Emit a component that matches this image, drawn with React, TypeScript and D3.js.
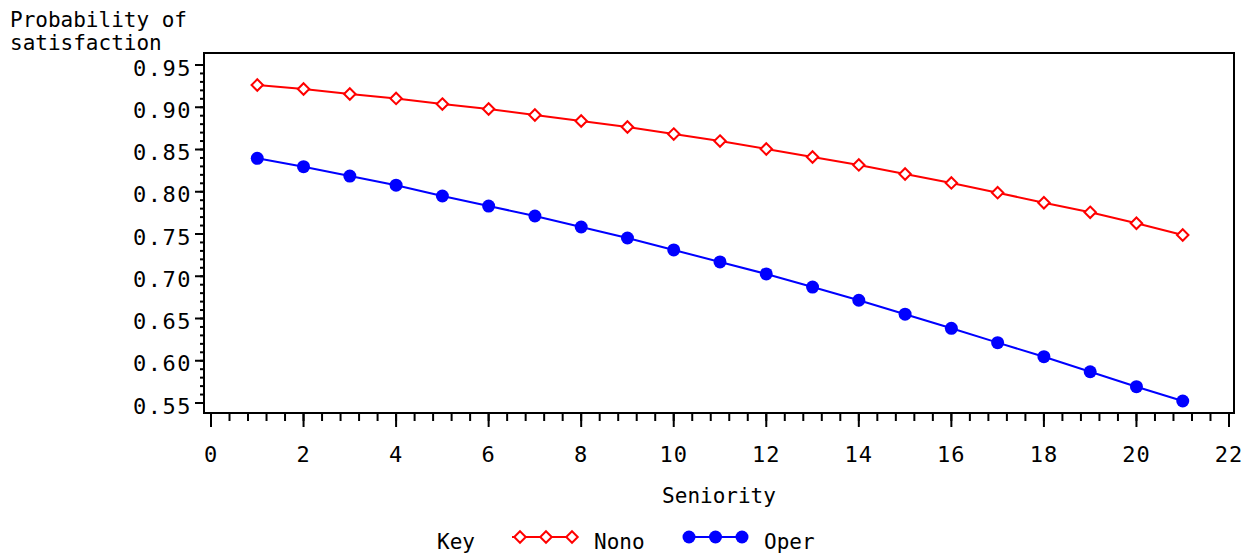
import { useEffect, useRef } from 'react';
import * as d3 from 'd3';

// Seniority (x) for both groups
const seniority = [1, 2, 3, 4, 5, 6, 7, 8, 9, 10, 11, 12, 13, 14, 15, 16, 17, 18, 19, 20, 21];

// Probability of satisfaction
const nono = [
  0.9263, 0.9216, 0.9157, 0.9104, 0.9038, 0.8979, 0.8908, 0.8837, 0.8766, 0.8683, 0.8600,
  0.8506, 0.8411, 0.8317, 0.8210, 0.8104, 0.7989, 0.7870, 0.7757, 0.7627, 0.7488,
];
const oper = [
  0.8396, 0.8297, 0.8186, 0.8078, 0.7950, 0.7831, 0.7713, 0.7583, 0.7453, 0.7311, 0.7169,
  0.7027, 0.6872, 0.6716, 0.6551, 0.6384, 0.6214, 0.6048, 0.5870, 0.5693, 0.5524,
];

const xTicks = [0, 2, 4, 6, 8, 10, 12, 14, 16, 18, 20, 22];
const yTicks = [0.55, 0.6, 0.65, 0.7, 0.75, 0.8, 0.85, 0.9, 0.95];

const FONT = "'DejaVu Sans Mono', 'Liberation Mono', monospace";

function App() {
  const svgRef = useRef<SVGSVGElement | null>(null);

  useEffect(() => {
    const svg = d3.select(svgRef.current);
    svg.selectAll('*').remove();

    // frame of the plot area
    const frame = { left: 204, right: 1234, top: 53, bottom: 413 };

    const x = d3.scaleLinear().domain([0, 22]).range([211, 1229]);
    const y = d3.scaleLinear().domain([0.55, 0.95]).range([403, 65]);

    svg.append('rect')
      .attr('x', frame.left)
      .attr('y', frame.top)
      .attr('width', frame.right - frame.left)
      .attr('height', frame.bottom - frame.top)
      .attr('fill', 'none')
      .attr('stroke', '#000')
      .attr('stroke-width', 2);

    // y axis ticks (major every 0.05, minor every 0.01)
    const yMinor = d3.range(0.55, 0.9501, 0.01);
    svg.append('g')
      .selectAll('line')
      .data(yMinor)
      .join('line')
      .attr('x1', frame.left - 4)
      .attr('x2', frame.left)
      .attr('y1', d => y(d))
      .attr('y2', d => y(d))
      .attr('stroke', '#000')
      .attr('stroke-width', 2);

    svg.append('g')
      .selectAll('line')
      .data(yTicks)
      .join('line')
      .attr('x1', frame.left - 9)
      .attr('x2', frame.left)
      .attr('y1', d => y(d))
      .attr('y2', d => y(d))
      .attr('stroke', '#000')
      .attr('stroke-width', 2);

    svg.append('g')
      .selectAll('text')
      .data(yTicks)
      .join('text')
      .attr('x', 192)
      .attr('y', d => y(d) + 10.5)
      .attr('text-anchor', 'end')
      .attr('font-family', FONT)
      .attr('font-size', 22)
      .attr('letter-spacing', 1.5)
      .text(d => d3.format('.2f')(d));

    // x axis ticks (major every 2, minor every 0.4)
    const xMinor = d3.range(0, 22.001, 0.4);
    svg.append('g')
      .selectAll('line')
      .data(xMinor)
      .join('line')
      .attr('x1', d => x(d))
      .attr('x2', d => x(d))
      .attr('y1', frame.bottom)
      .attr('y2', frame.bottom + 8)
      .attr('stroke', '#000')
      .attr('stroke-width', 2);

    svg.append('g')
      .selectAll('line')
      .data(xTicks)
      .join('line')
      .attr('x1', d => x(d))
      .attr('x2', d => x(d))
      .attr('y1', frame.bottom)
      .attr('y2', frame.bottom + 14)
      .attr('stroke', '#000')
      .attr('stroke-width', 2);

    svg.append('g')
      .selectAll('text')
      .data(xTicks)
      .join('text')
      .attr('x', d => x(d))
      .attr('y', 462)
      .attr('text-anchor', 'middle')
      .attr('font-family', FONT)
      .attr('font-size', 22)
      .attr('letter-spacing', 1)
      .text(d => String(d));

    // axis titles
    const yTitle = svg.append('text')
      .attr('font-family', FONT)
      .attr('font-size', 21)
      .attr('letter-spacing', 0);
    yTitle.append('tspan').attr('x', 10).attr('y', 27).text('Probability of');
    yTitle.append('tspan').attr('x', 10).attr('y', 50).text('satisfaction');

    svg.append('text')
      .attr('x', 719)
      .attr('y', 503)
      .attr('text-anchor', 'middle')
      .attr('font-family', FONT)
      .attr('font-size', 21)
      .text('Seniority');

    // lines
    const line = d3.line<number>()
      .x((_, i) => x(seniority[i]))
      .y(d => y(d));

    const diamond = d3.symbol().type(d3.symbolDiamond2).size(84);

    svg.append('path')
      .attr('d', line(nono))
      .attr('fill', 'none')
      .attr('stroke', '#ff0000')
      .attr('stroke-width', 2);

    svg.append('g')
      .selectAll('path')
      .data(nono)
      .join('path')
      .attr('transform', (d, i) => `translate(${x(seniority[i])},${y(d)})`)
      .attr('d', diamond)
      .attr('fill', 'white')
      .attr('stroke', '#ff0000')
      .attr('stroke-width', 2);

    svg.append('path')
      .attr('d', line(oper))
      .attr('fill', 'none')
      .attr('stroke', '#0000ff')
      .attr('stroke-width', 2);

    svg.append('g')
      .selectAll('circle')
      .data(oper)
      .join('circle')
      .attr('cx', (_, i) => x(seniority[i]))
      .attr('cy', d => y(d))
      .attr('r', 6.5)
      .attr('fill', '#0000ff');

    // legend
    const legend = svg.append('g').attr('font-family', FONT).attr('font-size', 21);
    legend.append('text').attr('x', 437).attr('y', 549).text('Key');

    const lx = d3.scaleLinear().domain([0, 2]).range([520, 572]);
    legend.append('line')
      .attr('x1', 512).attr('x2', 578).attr('y1', 537).attr('y2', 537)
      .attr('stroke', '#ff0000').attr('stroke-width', 2);
    legend.append('g')
      .selectAll('path')
      .data([0, 1, 2])
      .join('path')
      .attr('transform', d => `translate(${lx(d)},537)`)
      .attr('d', diamond)
      .attr('fill', 'white')
      .attr('stroke', '#ff0000')
      .attr('stroke-width', 2);
    legend.append('text').attr('x', 594).attr('y', 549).text('Nono');

    const bx = d3.scaleLinear().domain([0, 2]).range([689, 742]);
    legend.append('line')
      .attr('x1', 685).attr('x2', 746).attr('y1', 537).attr('y2', 537)
      .attr('stroke', '#0000ff').attr('stroke-width', 2);
    legend.append('g')
      .selectAll('circle')
      .data([0, 1, 2])
      .join('circle')
      .attr('cx', d => bx(d))
      .attr('cy', 537)
      .attr('r', 6.5)
      .attr('fill', '#0000ff');
    legend.append('text').attr('x', 764).attr('y', 549).text('Oper');
  }, []);

  return (
    <svg
      ref={svgRef}
      width={1250}
      height={556}
      style={{ position: 'absolute', left: 0, top: 0, background: '#fff' }}
    />
  );
}

export default App;
